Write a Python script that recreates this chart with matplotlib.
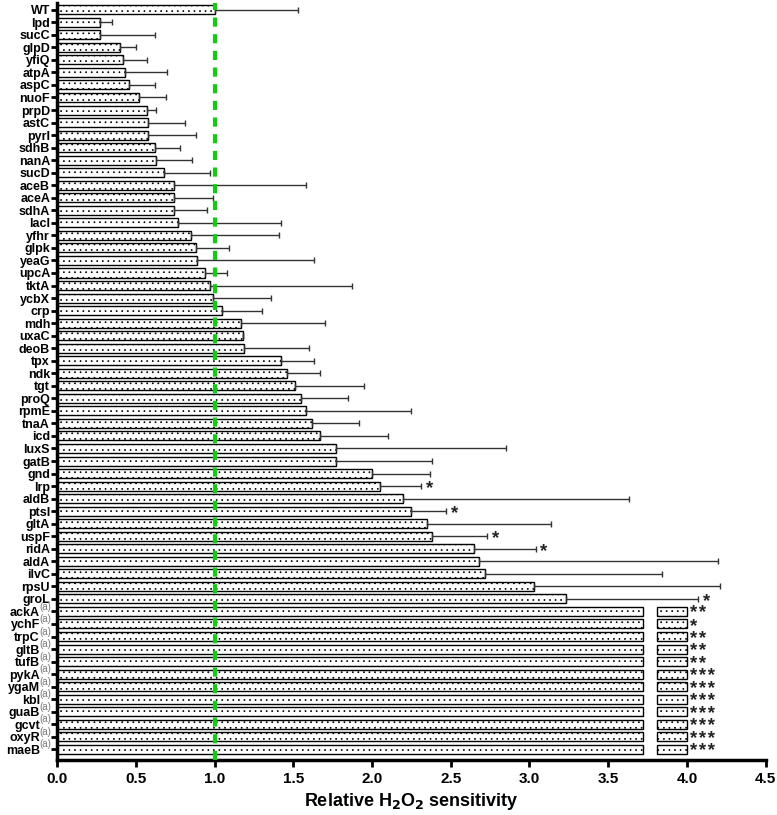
import numpy as np
import matplotlib.pyplot as plt

plt.rcParams['font.family'] = ['Liberation Sans', 'DejaVu Sans']
plt.rcParams['hatch.linewidth'] = 0.5
plt.rcParams['hatch.color'] = '#666666'

# genes, top to bottom
genes = ['WT', 'lpd', 'sucC', 'glpD', 'yfiQ', 'atpA', 'aspC', 'nuoF', 'prpD', 'astC',
         'pyrI', 'sdhB', 'nanA', 'sucD', 'aceB', 'aceA', 'sdhA', 'lacI', 'yfhr', 'glpk',
         'yeaG', 'upcA', 'tktA', 'ycbX', 'crp', 'mdh', 'uxaC', 'deoB', 'tpx', 'ndk',
         'tgt', 'proQ', 'rpmE', 'tnaA', 'icd', 'luxS', 'gatB', 'gnd', 'lrp', 'aldB',
         'ptsI', 'gltA', 'uspF', 'ridA', 'aldA', 'ilvC', 'rpsU', 'groL']
values = [1.00, 0.27, 0.27, 0.40, 0.42, 0.43, 0.46, 0.52, 0.57, 0.58,
          0.58, 0.62, 0.63, 0.68, 0.74, 0.74, 0.74, 0.77, 0.85, 0.88,
          0.89, 0.94, 0.97, 0.99, 1.05, 1.17, 1.18, 1.19, 1.42, 1.46,
          1.51, 1.55, 1.58, 1.62, 1.67, 1.77, 1.77, 2.00, 2.05, 2.20,
          2.25, 2.35, 2.38, 2.65, 2.68, 2.72, 3.03, 3.23]
# upper end of error bar
err_top = [1.53, 0.35, 0.62, 0.50, 0.57, 0.70, 0.62, 0.69, 0.63, 0.81,
           0.88, 0.78, 0.86, 0.97, 1.58, 0.99, 0.95, 1.42, 1.41, 1.09,
           1.63, 1.08, 1.87, 1.36, 1.30, 1.70, 1.18, 1.60, 1.63, 1.67,
           1.95, 1.85, 2.25, 1.92, 2.10, 2.85, 2.38, 2.37, 2.31, 3.63,
           2.47, 3.14, 2.73, 3.04, 4.20, 3.84, 4.21, 4.07]
stars = {'lrp': '*', 'ptsI': '*', 'uspF': '*', 'ridA': '*', 'groL': '*'}

# genes off-scale (a), broken bars to 4.0
genes_a = ['ackA', 'ychF', 'trpC', 'gltB', 'tufB', 'pykA', 'ygaM', 'kbl',
           'guaB', 'gcvt', 'oxyR', 'maeB']
stars_a = ['**', '*', '**', '**', '**', '***', '***', '***', '***', '***', '***', '***']
max_a = 4.0
break_lo, break_hi = 3.72, 3.81

n1 = len(genes)
n = n1 + len(genes_a)
y = np.arange(n)

fig = plt.figure(figsize=(7.77, 8.15), dpi=100)
ax = fig.add_axes([0.0734, 0.0675, 0.912, 0.929])

bar_kw = dict(height=0.72, color='white', edgecolor='black', linewidth=1.0, hatch='...')

ax.barh(y[:n1], values, **bar_kw)
ax.errorbar(values, y[:n1], xerr=[np.zeros(n1), np.array(err_top) - np.array(values)],
            fmt='none', ecolor='#333333', elinewidth=1.0, capsize=2, capthick=1.0)

ya = y[n1:]
ax.barh(ya, [break_lo] * len(genes_a), **bar_kw)
ax.barh(ya, [max_a - break_hi] * len(genes_a), left=break_hi, **bar_kw)

# significance stars
def star_text(s):
    return '\u200a'.join(s)

for i, g in enumerate(genes):
    if g in stars:
        ax.text(err_top[i] + 0.03, y[i] + 0.2, star_text(stars[g]), ha='left', va='center',
                fontsize=13.5, fontweight='bold', color='#222222')
for j, s in enumerate(stars_a):
    ax.text(max_a + 0.02, ya[j] + 0.2, star_text(s), ha='left', va='center',
            fontsize=13.5, fontweight='bold', color='#222222')

# reference line at WT level
ax.axvline(1.0, color='#11cc11', linewidth=3, linestyle=(0, (2.2, 1.8)), zorder=5)

ax.set_yticks(y)
ax.set_yticklabels(genes + genes_a, fontsize=9, fontweight='bold')
# grey "(a)" superscripts after the off-scale gene names
for j, g in enumerate(genes_a):
    ax.annotate('(a)', xy=(0, ya[j]), xycoords=('axes fraction', 'data'),
                xytext=(-4, 3.5), textcoords='offset points', ha='right', va='center',
                fontsize=7, color='#777777')
ax.set_ylim(59.85, -0.55)
ax.set_xlim(0, 4.5)
ax.set_xticks(np.arange(0, 4.51, 0.5))
ax.set_xticklabels(['%.1f' % v for v in np.arange(0, 4.51, 0.5)], fontsize=11, fontweight='bold')
ax.set_xlabel(r'Relative H$_\mathbf{2}$O$_\mathbf{2}$ sensitivity', fontsize=13,
              fontweight='bold', labelpad=4)

for s in ['top', 'right']:
    ax.spines[s].set_visible(False)
ax.spines['left'].set_linewidth(2.5)
ax.spines['bottom'].set_linewidth(2.5)
ax.tick_params(axis='y', length=4, width=2, pad=1)
ax.tick_params(axis='x', length=5, width=2)

# shift the names of off-scale genes left to make room for "(a)"
for lab in ax.get_yticklabels()[n1:]:
    lab.set_x(-0.0145)

plt.savefig('out.png', dpi=100)
